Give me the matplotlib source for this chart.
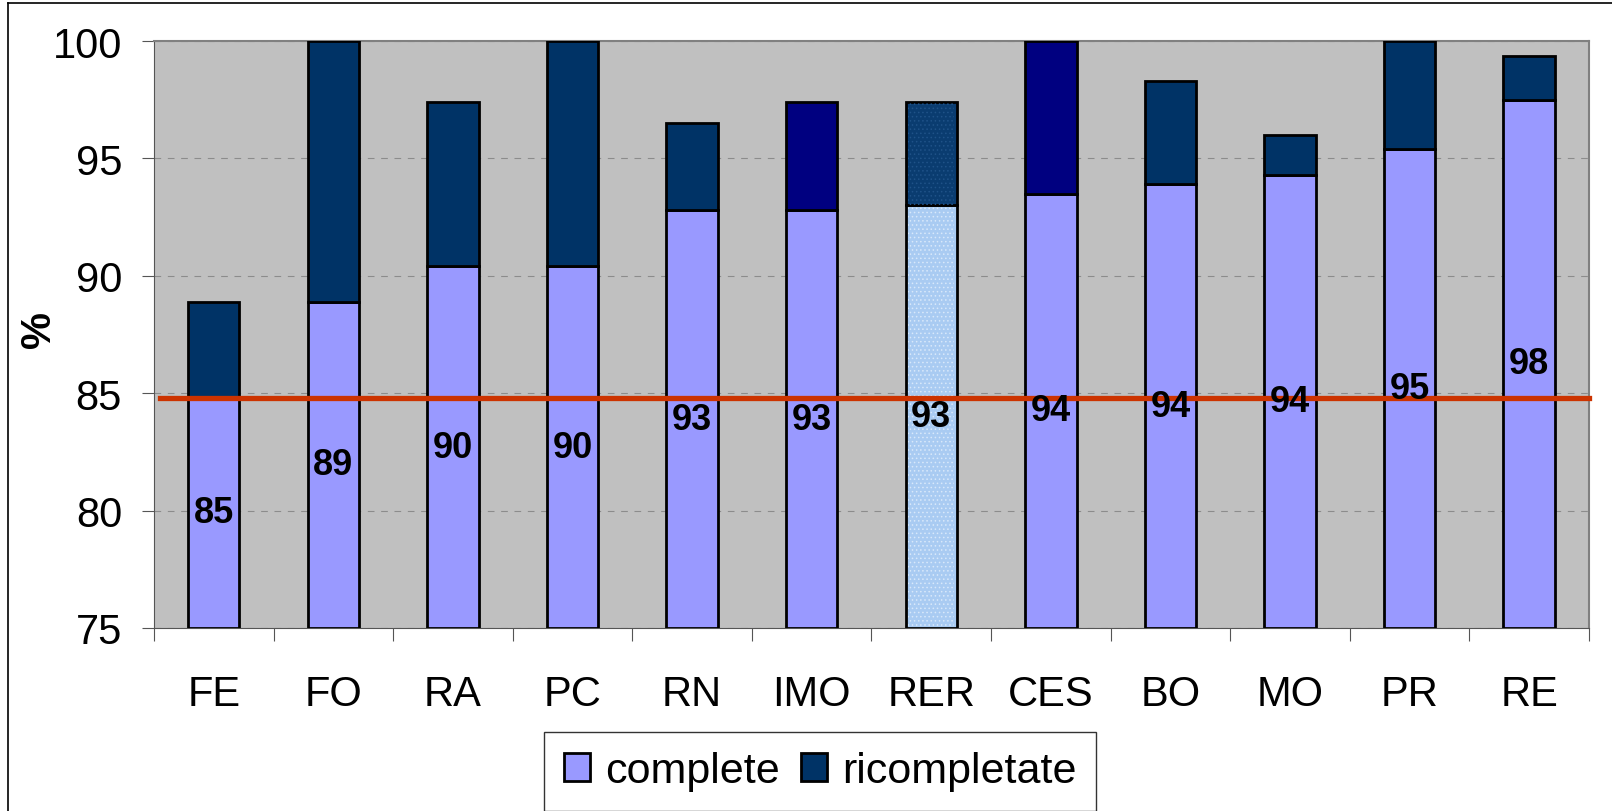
import matplotlib
matplotlib.use("Agg")
import matplotlib.pyplot as plt
import numpy as np

plt.rcParams['font.family'] = ['Liberation Sans', 'DejaVu Sans']

# data
categories = ["FE", "FO", "RA", "PC", "RN", "IMO", "RER", "CES", "BO", "MO", "PR", "RE"]
complete = [84.8, 88.9, 90.4, 90.4, 92.8, 92.8, 93.0, 93.5, 93.9, 94.3, 95.4, 97.5]
totale = [88.9, 100.0, 97.4, 100.0, 96.5, 97.4, 97.4, 100.0, 98.3, 96.0, 100.0, 99.35]
etichette = [85, 89, 90, 90, 93, 93, 93, 94, 94, 94, 95, 98]
soglia = 84.8
base = 75

ricompletate = [t - c for t, c in zip(totale, complete)]

col_complete = ['#9999FF'] * len(categories)
col_ricomp = ['#003366'] * len(categories)
col_ricomp[categories.index("IMO")] = '#000080'
col_ricomp[categories.index("CES")] = '#000080'
col_complete[categories.index("RER")] = '#A9CBF2'
col_ricomp[categories.index("RER")] = '#0A3C70'

fig = plt.figure(figsize=(16.12, 8.12), dpi=100)
ax = fig.add_axes([0.0955, 0.2254, 0.8902, 0.7228])
ax.set_facecolor('#C0C0C0')

x = np.arange(len(categories))
w = 0.43
b1 = ax.bar(x, [c - base for c in complete], w, bottom=base, color=col_complete,
            edgecolor='black', linewidth=2.0, label='complete', zorder=3)
b2 = ax.bar(x, ricompletate, w, bottom=complete, color=col_ricomp,
            edgecolor='black', linewidth=2.0, label='ricompletate', zorder=3)

# dotted texture on RER
i = categories.index("RER")
plt.rcParams['hatch.linewidth'] = 0.6
ax.bar(x[i], complete[i] - base, w * 0.9, bottom=base, color='none', edgecolor='#D8E8FA',
       hatch='....', linewidth=0, zorder=3.5)
ax.bar(x[i], ricompletate[i], w * 0.9, bottom=complete[i], color='none', edgecolor='#1F5288',
       hatch='....', linewidth=0, zorder=3.5)

for xi, c, lab in zip(x, complete, etichette):
    ax.text(xi, (base + c) / 2, str(lab), ha='center', va='center', fontsize=26,
            fontweight='bold', zorder=5)

ax.plot([-0.45, len(categories) - 0.5], [soglia, soglia], color='#CC3300', lw=3.8,
        zorder=4, clip_on=False)

ax.set_xlim(-0.5, len(categories) - 0.5)
ax.set_ylim(75, 100)
ax.set_yticks([75, 80, 85, 90, 95, 100])
ax.yaxis.grid(True, color='#8C8C8C', linestyle=(0, (6, 6)), linewidth=0.8, zorder=1)
ax.set_xticks(x)
ax.set_xticklabels(categories)
ax.set_xticks(np.arange(-0.5, len(categories)), minor=True)
ax.tick_params(axis='x', which='major', length=0, pad=33, labelsize=30)
ax.tick_params(axis='x', which='minor', length=9, width=0.8, color='#555555')
ax.tick_params(axis='y', length=9, width=0.8, color='#555555', pad=14, labelsize=30)
ax.set_ylabel('%', fontsize=30, fontweight='bold')
ax.yaxis.set_label_coords(-0.066, 0.51)

for s in ['top', 'right']:
    ax.spines[s].set_color('#808080')
    ax.spines[s].set_linewidth(1.5)
ax.spines['left'].set_color('#555555')
ax.spines['bottom'].set_color('#555555')

leg = fig.legend([b1[0], b2[0]], ['complete', 'ricompletate'], loc='upper center',
                 bbox_to_anchor=(0.5087, 0.0975), ncol=2, fontsize=31, frameon=True,
                 fancybox=False, edgecolor='black', handlelength=0.6, handleheight=0.6,
                 handletextpad=0.35, columnspacing=0.5, borderpad=0.45, borderaxespad=0)
leg.get_frame().set_linewidth(1.0)
leg.legend_handles[0].set_facecolor('#9999FF')
leg.legend_handles[1].set_facecolor('#003366')

# thin frame round the chart
fig.add_artist(plt.Line2D([0.005, 0.005], [0, 0.995], color='black', lw=1.2))
fig.add_artist(plt.Line2D([0.005, 1], [0.995, 0.995], color='black', lw=1.2))

fig.savefig('out.png', dpi=100)
